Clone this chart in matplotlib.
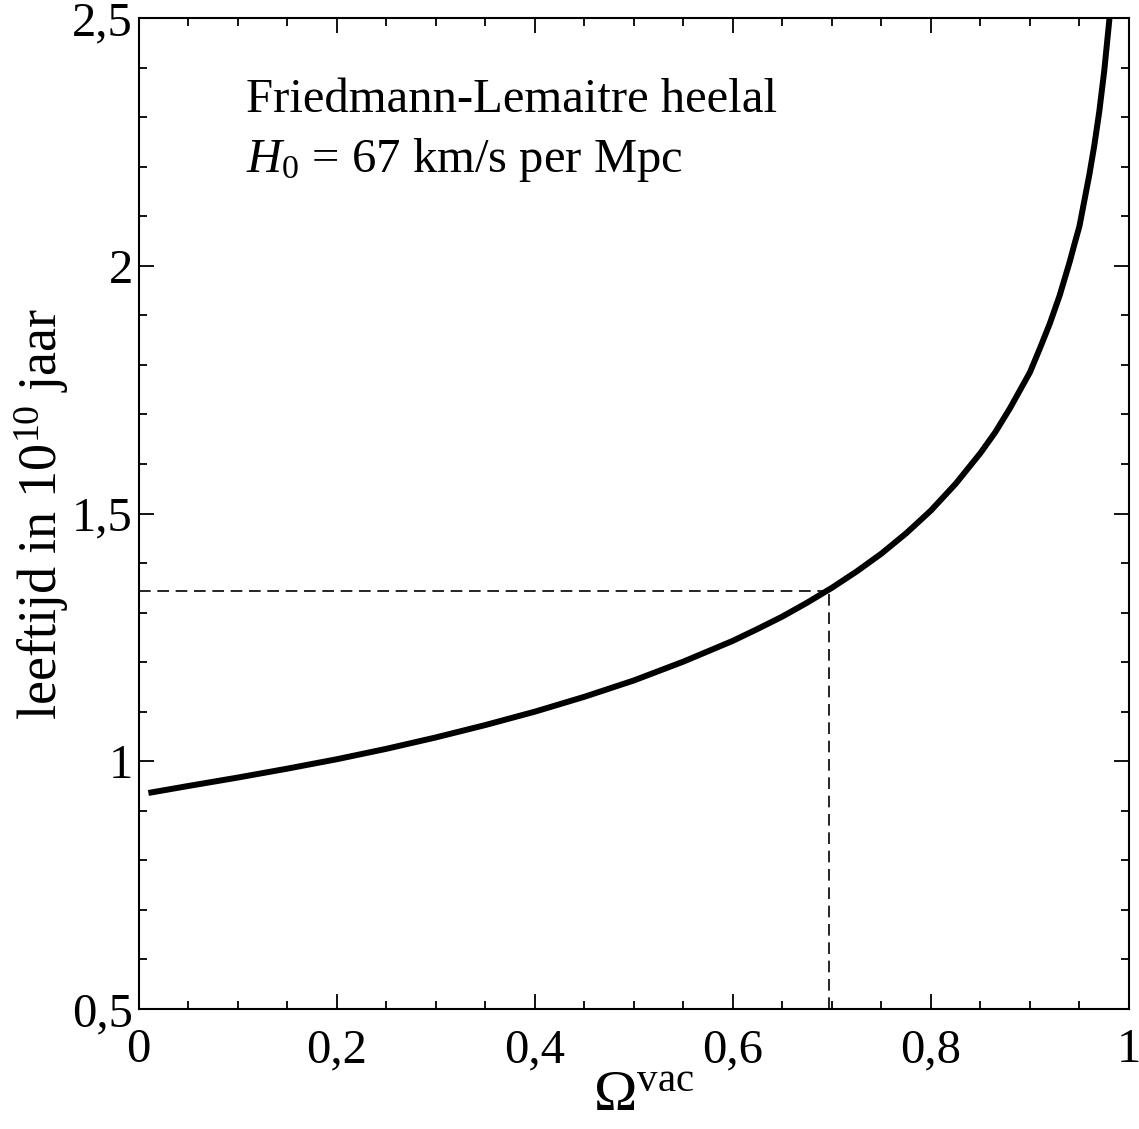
# age of a flat Friedmann-Lemaitre universe as a function of Omega_vac
import matplotlib
matplotlib.use("Agg")
import matplotlib.pyplot as plt
from matplotlib.ticker import MultipleLocator, FuncFormatter

plt.rcParams['font.family'] = ['Liberation Serif', 'DejaVu Serif']
plt.rcParams['mathtext.fontset'] = 'custom'
plt.rcParams['mathtext.rm'] = 'Liberation Serif'
plt.rcParams['mathtext.it'] = 'Liberation Serif:italic'

# values
omega_vac = [0.01, 0.05, 0.10, 0.15, 0.20, 0.25, 0.30, 0.35, 0.40, 0.45,
             0.50, 0.55, 0.60, 0.625, 0.65, 0.675, 0.70, 0.725, 0.75, 0.775,
             0.80, 0.825, 0.85, 0.865, 0.88, 0.90, 0.91, 0.92, 0.93, 0.94,
             0.945, 0.95, 0.955, 0.96, 0.965, 0.97, 0.975, 0.98, 0.983]
age = [0.936, 0.950, 0.967, 0.985, 1.004, 1.025, 1.048, 1.073, 1.100, 1.130,
       1.163, 1.201, 1.243, 1.267, 1.292, 1.320, 1.350, 1.383, 1.419, 1.460,
       1.506, 1.560, 1.622, 1.664, 1.713, 1.785, 1.833, 1.883, 1.940, 2.007,
       2.044, 2.080, 2.132, 2.184, 2.243, 2.311, 2.393, 2.493, 2.56]

# the marked present-day point
omega_now = 0.697
age_now = 1.344

fig = plt.figure(figsize=(11.39, 11.29), dpi=100)
ax = fig.add_axes([0.1216, 0.1063, 0.8696, 0.8777])

ax.plot(omega_vac, age, color='black', linewidth=4.3, solid_capstyle='butt',
        solid_joinstyle='round')
ax.plot([0, omega_now], [age_now, age_now], color='black', linewidth=1.2,
        dashes=(7, 4))
ax.plot([omega_now, omega_now], [0.5, age_now], color='black', linewidth=1.2,
        dashes=(7, 4))

ax.set_xlim(0, 1)
ax.set_ylim(0.5, 2.5)

ax.xaxis.set_major_locator(MultipleLocator(0.2))
ax.xaxis.set_minor_locator(MultipleLocator(0.05))
ax.yaxis.set_major_locator(MultipleLocator(0.5))
ax.yaxis.set_minor_locator(MultipleLocator(0.1))

# decimal comma, as in the Dutch original
comma = FuncFormatter(lambda v, pos: ('%g' % round(v, 3)).replace('.', ','))
ax.xaxis.set_major_formatter(comma)
ax.yaxis.set_major_formatter(comma)

ax.tick_params(which='both', direction='in', top=True, right=True,
               width=1.3, labelsize=35)
ax.tick_params(which='major', length=11)
ax.tick_params(which='minor', length=5.5)
ax.tick_params(axis='x', which='major', pad=14)
ax.tick_params(axis='y', which='major', pad=4)
for sp in ax.spines.values():
    sp.set_linewidth(1.5)

ax.set_xlabel(r'$\Omega^{\mathrm{vac}}$', fontsize=42, va='top')
ax.xaxis.set_label_coords(0.51, -0.062)
ax.set_ylabel(r'leeftijd in $10^{10}$ jaar', fontsize=39)
ax.yaxis.set_label_coords(-0.068, 0.5)

ax.text(0.109, 0.905, 'Friedmann-Lemaitre heelal', transform=ax.transAxes,
        fontsize=35)
ax.text(0.109, 0.845, r'$H_0$ = 67 km/s per Mpc', transform=ax.transAxes,
        fontsize=35)

fig.savefig('out.png', dpi=100)
